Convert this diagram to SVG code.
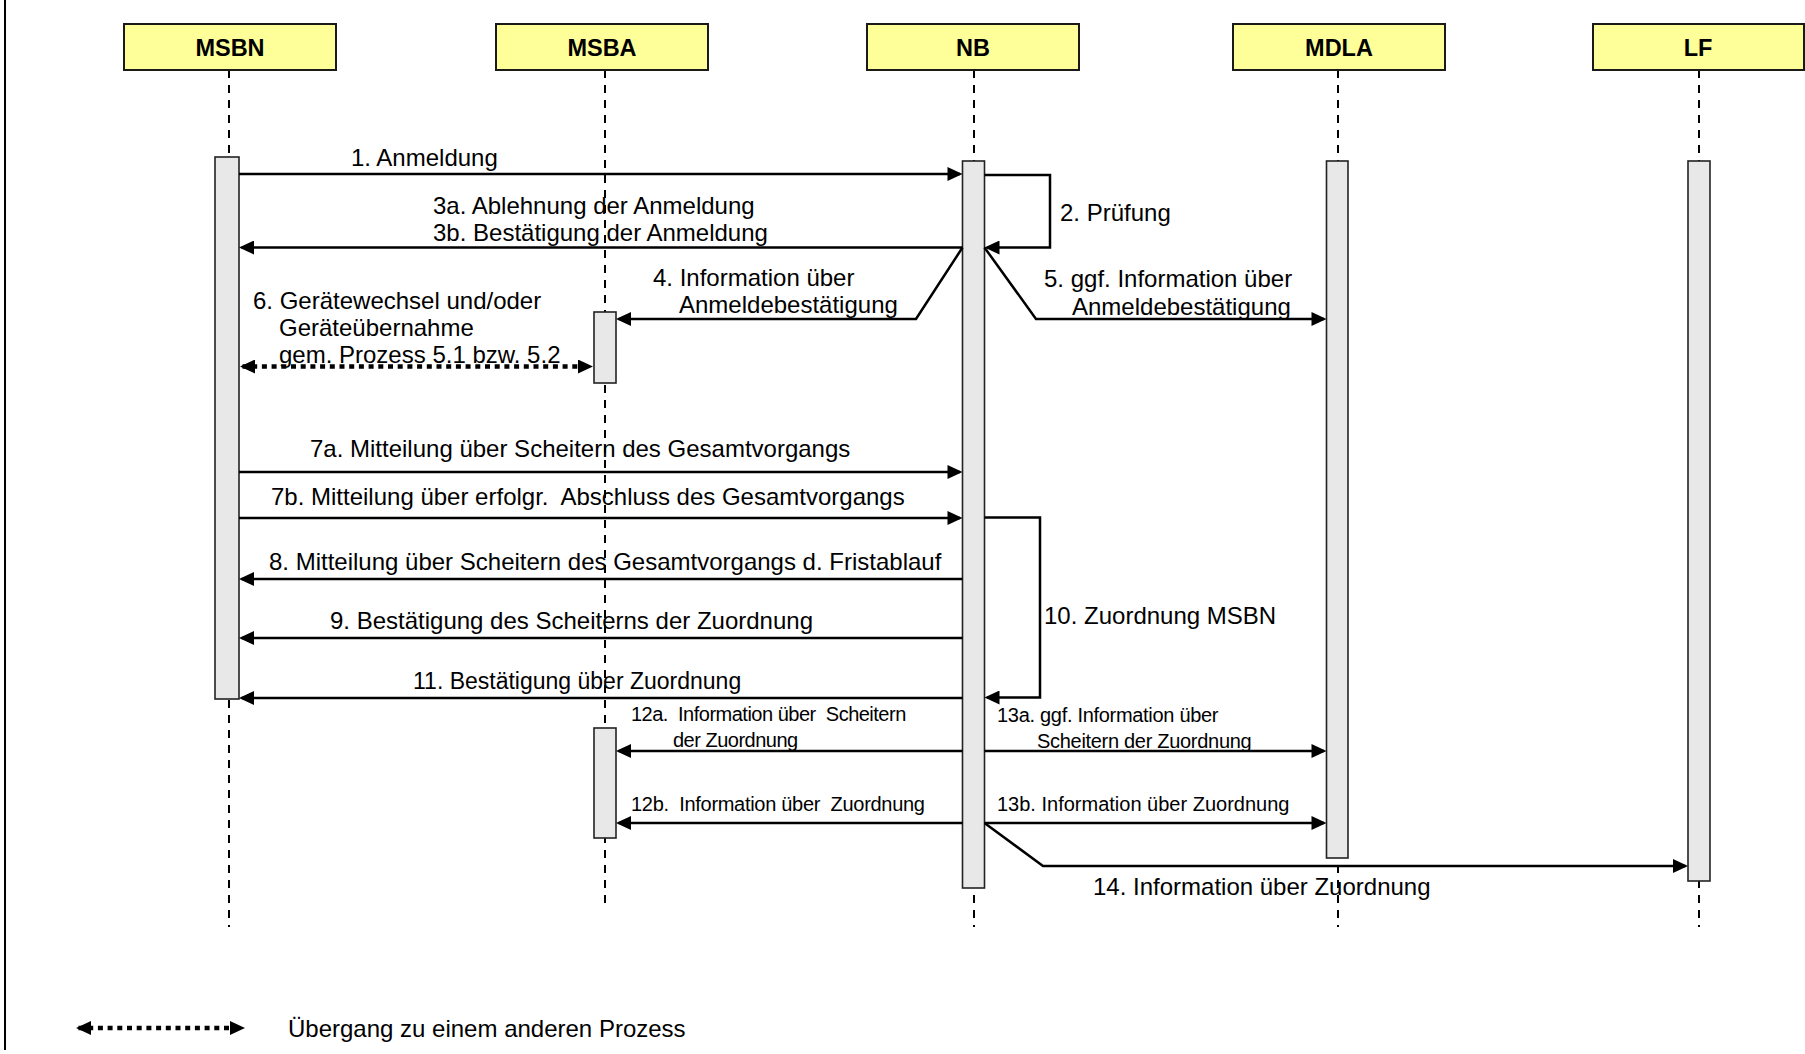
<svg xmlns="http://www.w3.org/2000/svg" width="1805" height="1054" viewBox="0 0 1805 1054">
  <style>
    .head { fill: #ffff99; stroke: #1a1a1a; stroke-width: 2; }
    .headtxt { font-family: "Liberation Sans", Arial, sans-serif; font-weight: bold; font-size: 23.5px; fill: #000; text-anchor: middle; }
    .life { stroke: #000; stroke-width: 2; stroke-dasharray: 8 7; fill: none; }
    .act { fill: #e8e8e8; stroke: #222; stroke-width: 1.6; }
    .msg { stroke: #000; stroke-width: 2.5; fill: none; marker-end: url(#arr); }
    .dot { stroke: #000; stroke-width: 4.5; stroke-dasharray: 5 4.7; fill: none; marker-start: url(#arr); marker-end: url(#arr); }
    .lbl { font-family: "Liberation Sans", Arial, sans-serif; font-size: 24px; fill: #000; }
    .cnd { font-family: "Liberation Sans", Arial, sans-serif; font-size: 20px; fill: #000; }
  </style>
  <defs>
    <marker id="arr" markerUnits="userSpaceOnUse" markerWidth="16" markerHeight="14" viewBox="0 0 15 14" refX="12.5" refY="7" orient="auto-start-reverse">
      <path d="M0,0 L15,7 L0,14 z" fill="#000"/>
    </marker>
  </defs>

  <rect width="1805" height="1054" fill="#fff"/>
  <!-- page border on the left -->
  <line x1="5" y1="0" x2="5" y2="1050" stroke="#000" stroke-width="2"/>

  <!-- participants -->
  <g id="MSBN">
    <line class="life" x1="229" y1="70" x2="229" y2="927"/>
    <rect class="head" x="124" y="24" width="212" height="46"/>
    <text class="headtxt" x="230" y="56">MSBN</text>
    <rect class="act" x="215" y="157" width="24" height="542"/>
  </g>
  <g id="MSBA">
    <line class="life" x1="605" y1="70" x2="605" y2="903"/>
    <rect class="head" x="496" y="24" width="212" height="46"/>
    <text class="headtxt" x="602" y="56">MSBA</text>
    <rect class="act" x="594" y="312" width="22" height="71"/>
    <rect class="act" x="594" y="728" width="22" height="110"/>
  </g>
  <g id="NB">
    <line class="life" x1="974" y1="70" x2="974" y2="927"/>
    <rect class="head" x="867" y="24" width="212" height="46"/>
    <text class="headtxt" x="973" y="56">NB</text>
    <rect class="act" x="962.5" y="161" width="22" height="727"/>
  </g>
  <g id="MDLA">
    <line class="life" x1="1338" y1="70" x2="1338" y2="927"/>
    <rect class="head" x="1233" y="24" width="212" height="46"/>
    <text class="headtxt" x="1339" y="56">MDLA</text>
    <rect class="act" x="1326.5" y="161" width="21.5" height="697"/>
  </g>
  <g id="LF">
    <line class="life" x1="1699" y1="70" x2="1699" y2="927"/>
    <rect class="head" x="1593" y="24" width="211" height="46"/>
    <text class="headtxt" x="1698" y="56">LF</text>
    <rect class="act" x="1688" y="161" width="22" height="720"/>
  </g>

  <!-- messages -->
  <g id="connectors">
    <g id="m1">
      <path class="msg" d="M239,174 H960"/>
      <text class="lbl" x="351" y="166">1. Anmeldung</text>
    </g>
    <g id="m2">
      <path class="msg" d="M984.5,175 H1050 V247.5 H987"/>
      <text class="lbl" x="1060" y="221">2. Prüfung</text>
    </g>
    <g id="m3">
      <path class="msg" d="M962.5,247.5 H241.5"/>
      <text class="lbl" x="433" y="214">3a. Ablehnung der Anmeldung</text>
      <text class="lbl" x="433" y="241">3b. Bestätigung der Anmeldung</text>
    </g>
    <g id="m4">
      <path class="msg" d="M962.5,247.5 L916,319 H618.5"/>
      <text class="lbl" x="653" y="286">4. Information über</text>
      <text class="lbl" x="679" y="313">Anmeldebestätigung</text>
    </g>
    <g id="m5">
      <path class="msg" d="M984.5,247.5 L1036,319 H1324"/>
      <text class="lbl" x="1044" y="287">5. ggf. Information über</text>
      <text class="lbl" x="1072" y="315">Anmeldebestätigung</text>
    </g>
    <g id="m6">
      <path class="dot" d="M242.5,366.5 H590.5"/>
      <text class="lbl" x="253" y="309">6. Gerätewechsel und/oder</text>
      <text class="lbl" x="279" y="336">Geräteübernahme</text>
      <text class="lbl" x="279" y="363">gem. Prozess 5.1 bzw. 5.2</text>
    </g>
    <g id="m7a">
      <path class="msg" d="M239,472 H960"/>
      <text class="lbl" x="310" y="457">7a. Mitteilung über Scheitern des Gesamtvorgangs</text>
    </g>
    <g id="m7b">
      <path class="msg" d="M239,518 H960"/>
      <text class="lbl" x="271" y="505" xml:space="preserve">7b. Mitteilung über erfolgr.  Abschluss des Gesamtvorgangs</text>
    </g>
    <g id="m8">
      <path class="msg" d="M962.5,579 H241.5"/>
      <text class="lbl" x="269" y="570">8. Mitteilung über Scheitern des Gesamtvorgangs d. Fristablauf</text>
    </g>
    <g id="m9">
      <path class="msg" d="M962.5,638 H241.5"/>
      <text class="lbl" x="330" y="629">9. Bestätigung des Scheiterns der Zuordnung</text>
    </g>
    <g id="m10">
      <path class="msg" d="M984.5,517.5 H1040 V697.5 H987"/>
      <text class="lbl" x="1044" y="624">10. Zuordnung MSBN</text>
    </g>
    <g id="m11">
      <path class="msg" d="M962.5,698 H241.5"/>
      <text class="lbl" x="413" y="689" style="font-size:23px">11. Bestätigung über Zuordnung</text>
    </g>
    <g id="m12a">
      <path class="msg" d="M962.5,751 H618.5"/>
      <text class="cnd" x="631" y="721" xml:space="preserve" style="letter-spacing:-0.5px">12a.  Information über  Scheitern</text>
      <text class="cnd" x="673" y="747" style="letter-spacing:-0.5px">der Zuordnung</text>
    </g>
    <g id="m13a">
      <path class="msg" d="M984.5,751 H1324"/>
      <text class="cnd" x="997" y="722" style="letter-spacing:-0.3px">13a. ggf. Information über</text>
      <text class="cnd" x="1037" y="748" style="letter-spacing:-0.3px">Scheitern der Zuordnung</text>
    </g>
    <g id="m12b">
      <path class="msg" d="M962.5,823 H618.5"/>
      <text class="cnd" x="631" y="811" xml:space="preserve" style="letter-spacing:-0.3px">12b.  Information über  Zuordnung</text>
    </g>
    <g id="m13b">
      <path class="msg" d="M984.5,823 H1324"/>
      <text class="cnd" x="997" y="811">13b. Information über Zuordnung</text>
    </g>
    <g id="m14">
      <path class="msg" d="M984.5,823 L1043,866 H1685.5"/>
      <text class="lbl" x="1093" y="895">14. Information über Zuordnung</text>
    </g>
  </g>

  <!-- legend -->
  <g id="legend">
    <path class="dot" d="M78.5,1028 H242.5"/>
    <text class="lbl" x="288" y="1037">Übergang zu einem anderen Prozess</text>
  </g>
</svg>
